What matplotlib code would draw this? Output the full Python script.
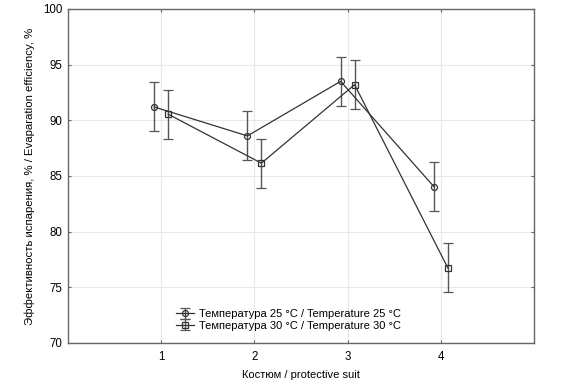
import matplotlib
matplotlib.use("Agg")
import matplotlib.pyplot as plt
import numpy as np

plt.rcParams['font.family'] = ['Liberation Sans', 'DejaVu Sans']

suits = [1, 2, 3, 4]
t25 = [91.2, 88.6, 93.5, 84.05]
t25_err = [2.2, 2.2, 2.2, 2.2]
t30 = [90.55, 86.15, 93.2, 76.75]
t30_err = [2.2, 2.2, 2.2, 2.2]
xticks = [1, 2, 3, 4]
yticks = [70, 75, 80, 85, 90, 95, 100]
labels = ["Температура 25 °C / Temperature 25 °C",
          "Температура 30 °C / Temperature 30 °C"]

fig = plt.figure(figsize=(5.83, 3.84), dpi=100)
ax = fig.add_axes([0.1166, 0.1068, 0.916 - 0.1166, 0.9766 - 0.1068])

x = np.array(suits, dtype=float)
off = 0.075
ax.errorbar(x - off, t25, yerr=t25_err, color='#333333', ecolor='#555555',
            lw=0.9, elinewidth=1.0, capsize=3.3, capthick=1.0,
            marker='o', ms=4.3, mfc='none', mec='#333333', mew=0.9, label=labels[0])
ax.errorbar(x + off, t30, yerr=t30_err, color='#333333', ecolor='#555555',
            lw=0.9, elinewidth=1.0, capsize=3.3, capthick=1.0,
            marker='s', ms=4.3, mfc='none', mec='#333333', mew=0.9, label=labels[1])

ax.set_xlim(0, 5)
ax.set_ylim(70, 100)
ax.set_xticks(xticks)
ax.set_yticks(yticks)
ax.grid(True, color='#e8e8e8', lw=0.8)
ax.set_axisbelow(True)
ax.tick_params(direction='in', length=2.5, width=0.8, color='#666666',
               top=True, right=True, labelsize=8.3, pad=4)
ax.tick_params(axis='x', pad=6)
for s in ax.spines.values():
    s.set_color('#666666')
    s.set_linewidth(1.0)

ax.set_xlabel("Костюм / protective suit", fontsize=8, labelpad=5)
ax.set_ylabel("Эффективность испарения, % / Evaparation efficiency, %", fontsize=8.2, labelpad=6)

leg = ax.legend(loc='lower center', bbox_to_anchor=(0.473, 0.014), frameon=False,
                fontsize=8, handlelength=1.6, handletextpad=0.5,
                labelspacing=0.12, borderpad=0.2)

fig.savefig("out.png", dpi=100)
